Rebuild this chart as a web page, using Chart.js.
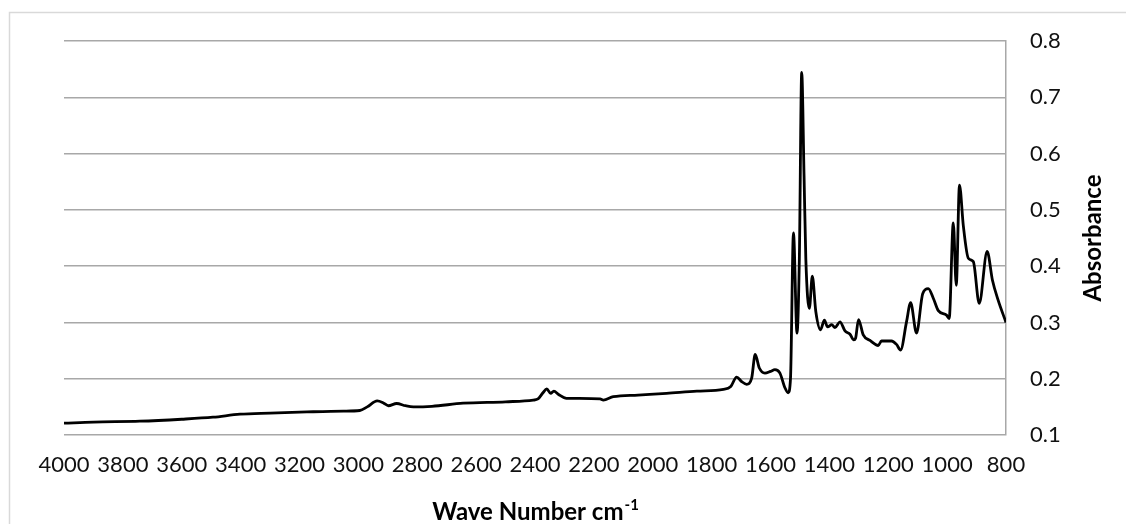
<!DOCTYPE html>
<html>
<head>
<meta charset="utf-8">
<script src="https://cdn.jsdelivr.net/npm/chart.js@4/dist/chart.umd.min.js"></script>
<style>
  html, body { margin: 0; padding: 0; background: #fff; }
  #wrap { width: 1126px; height: 524px; position: relative; }
</style>
</head>
<body>
<div id="wrap"><canvas id="spectrum" width="1126" height="524"></canvas></div>
<script>
// IR absorbance spectrum, wavenumber in cm^-1 (high to low)
const wavenumbers = [
  4000, 3900, 3742, 3600, 3494, 3402, 3300, 3175, 3050, 2995,
  2970, 2936, 2915, 2898, 2870, 2840, 2813, 2750, 2644, 2500,
  2406, 2390, 2373, 2360, 2347, 2336, 2320, 2293, 2250, 2179,
  2168, 2134, 2050, 1953, 1850, 1760, 1735, 1715, 1698, 1681,
  1664, 1652, 1638, 1619, 1600, 1585, 1568, 1551, 1540, 1532,
  1522, 1510, 1502, 1494, 1486, 1480, 1468, 1458, 1446, 1430,
  1417, 1406, 1392, 1381, 1364, 1347, 1330, 1317, 1311, 1301,
  1285, 1262, 1234, 1223, 1189, 1172, 1158, 1138, 1124, 1104,
  1083, 1064, 1047, 1030, 1002, 993, 979, 969, 958, 945,
  928, 911, 891, 864, 846, 827, 800
];
const absorbance = [
  0.121, 0.123, 0.1245, 0.128, 0.1316, 0.137, 0.139, 0.141, 0.1425, 0.1435,
  0.150, 0.1606, 0.157, 0.152, 0.156, 0.152, 0.150, 0.151, 0.1565, 0.159,
  0.162, 0.164, 0.175, 0.182, 0.174, 0.178, 0.172, 0.165, 0.165, 0.164,
  0.162, 0.168, 0.171, 0.174, 0.178, 0.181, 0.186, 0.203, 0.195, 0.190,
  0.201, 0.243, 0.219, 0.210, 0.213, 0.216, 0.210, 0.184, 0.175, 0.201,
  0.459, 0.281, 0.413, 0.744, 0.560, 0.413, 0.325, 0.382, 0.319, 0.287,
  0.304, 0.292, 0.296, 0.291, 0.301, 0.285, 0.279, 0.269, 0.272, 0.305,
  0.278, 0.268, 0.259, 0.267, 0.267, 0.261, 0.251, 0.301, 0.335, 0.281,
  0.351, 0.360, 0.343, 0.321, 0.313, 0.307, 0.477, 0.366, 0.544, 0.472,
  0.414, 0.408, 0.334, 0.426, 0.375, 0.340, 0.300
];

// Axis ranges and tick steps
const xRange = [800, 4000];
const xStep = 200;
const yRange = [0.1, 0.8];
const yStep = 0.1;

const xTitle = 'Wave Number cm';
const xTitleSup = '-1';
const yTitle = 'Absorbance';

const tickFont = { family: 'Lato, "Open Sans", sans-serif', size: 22 };
const titleFamily = 'Lato, "Open Sans", sans-serif';

// Frame and axis titles drawn on the canvas
const titlesPlugin = {
  id: 'axisTitles',
  beforeDraw(chart) {
    const ctx = chart.ctx;
    ctx.save();
    ctx.fillStyle = '#fff';
    ctx.fillRect(0, 0, chart.width, chart.height);
    ctx.strokeStyle = '#d9d9d9';
    ctx.lineWidth = 1.5;
    ctx.strokeRect(9.5, 12.5, chart.width + 50, chart.height + 50);
    ctx.restore();
  },
  afterDraw(chart) {
    const ctx = chart.ctx;
    const area = chart.chartArea;
    ctx.save();
    ctx.fillStyle = '#000';
    ctx.textBaseline = 'alphabetic';

    // x title with superscript
    const mainFont = 'bold 24px ' + titleFamily;
    const supFont = 'bold 15px ' + titleFamily;
    ctx.font = mainFont;
    const wMain = ctx.measureText(xTitle).width;
    ctx.font = supFont;
    const wSup = ctx.measureText(xTitleSup).width;
    const cx = (area.left + area.right) / 2;
    const startX = cx - (wMain + wSup) / 2;
    const baseY = 520;
    ctx.font = mainFont;
    ctx.textAlign = 'left';
    ctx.fillText(xTitle, startX, baseY);
    ctx.font = supFont;
    ctx.fillText(xTitleSup, startX + wMain + 1, baseY - 10);

    // y title, reading bottom to top
    ctx.font = mainFont;
    ctx.textAlign = 'center';
    ctx.textBaseline = 'middle';
    ctx.translate(1093, (area.top + area.bottom) / 2);
    ctx.rotate(-Math.PI / 2);
    ctx.fillText(yTitle, 0, 0);
    ctx.restore();
  }
};

const points = wavenumbers.map((w, i) => ({ x: w, y: absorbance[i] }));

new Chart(document.getElementById('spectrum'), {
  type: 'line',
  data: {
    datasets: [{
      data: points,
      borderColor: '#000',
      borderWidth: 2.8,
      pointRadius: 0,
      fill: false,
      cubicInterpolationMode: 'monotone'
    }]
  },
  options: {
    responsive: false,
    animation: false,
    devicePixelRatio: 1,
    layout: { padding: { left: 64, top: 41, right: 0, bottom: 0 } },
    plugins: { legend: { display: false }, tooltip: { enabled: false } },
    scales: {
      x: {
        type: 'linear',
        reverse: true,
        min: xRange[0],
        max: xRange[1],
        ticks: {
          stepSize: xStep,
          autoSkip: false,
          maxRotation: 0,
          minRotation: 0,
          padding: 17,
          color: '#111',
          font: tickFont,
          callback: v => String(v)
        },
        grid: { display: false, drawTicks: false },
        border: { display: false },
        afterFit: s => { s.height = 89; }
      },
      y: {
        position: 'right',
        min: yRange[0],
        max: yRange[1],
        ticks: {
          stepSize: yStep,
          padding: 24,
          color: '#111',
          font: tickFont,
          callback: v => Number(v).toFixed(1)
        },
        grid: { color: '#a8a8a8', lineWidth: 1.5, drawTicks: false },
        border: { display: true, color: '#a8a8a8', width: 1.5 },
        afterFit: s => { s.width = 120; }
      }
    }
  },
  plugins: [titlesPlugin]
});
</script>
</body>
</html>
